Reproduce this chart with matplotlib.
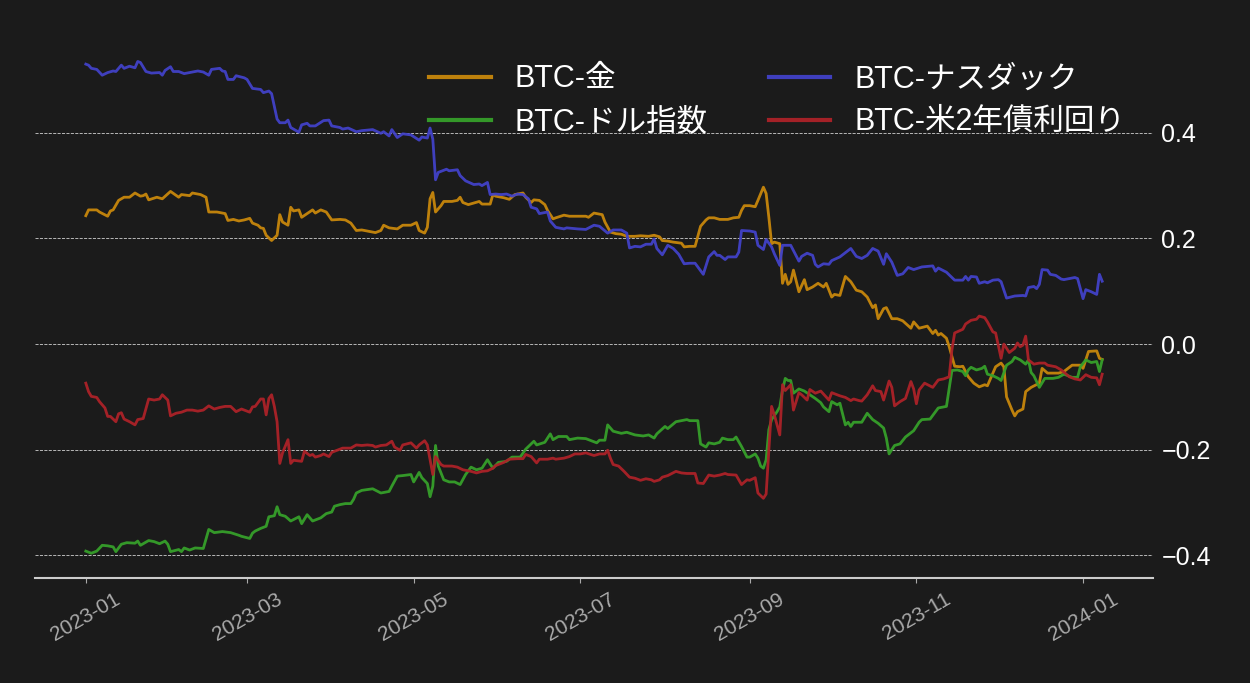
import pandas as pd
import matplotlib
matplotlib.use("Agg")
import matplotlib.pyplot as plt
import matplotlib.dates as mdates

# data: day offsets from 2023-01-01 and correlation values
start = pd.Timestamp("2023-01-01")

gold_days = [0, 1, 4, 5, 8, 9, 10, 12, 14, 16, 18, 20, 21, 22, 23, 26, 28, 31, 34, 35, 38, 39, 42, 44, 45,
             48, 51, 52, 54, 56, 58, 60, 61, 63, 64, 65, 66, 68, 70, 71, 72, 74, 75, 76, 78, 79, 81, 83, 84,
             86, 88, 90, 93, 95, 97, 99, 101, 103, 106, 108, 109, 111, 114, 116, 119, 121, 122, 124, 125,
             126, 127, 128, 130, 131, 134, 136, 137, 138, 140, 142, 144, 145, 148, 149, 150, 153, 155, 157,
             160, 161, 163, 164, 166, 168, 169, 171, 172, 175, 177, 180, 183, 184, 186, 189, 190, 192, 194,
             196, 198, 201, 203, 206, 208, 210, 211, 213, 215, 218, 219, 221, 223, 225, 227, 228, 230, 232,
             235, 237, 239, 240, 241, 243, 245, 246, 248, 249, 250, 251, 252, 254, 255, 256, 257, 258, 259,
             261, 263, 264, 266, 268, 270, 271, 273, 274, 276, 278, 280, 282, 284, 286, 288, 289, 290, 292,
             293, 295, 297, 299, 302, 303, 305, 308, 310, 311, 312, 313, 315, 316, 318, 320, 321, 323, 325,
             327, 329, 330, 332, 333, 335, 336, 337, 339, 340, 341, 343, 344, 346, 349, 350, 352, 356, 358,
             361, 364, 365, 367, 370, 371, 372]
gold = [0.243, 0.254, 0.254, 0.250, 0.242, 0.252, 0.254, 0.272, 0.278, 0.278, 0.286, 0.280, 0.281, 0.284,
        0.273, 0.278, 0.275, 0.289, 0.278, 0.283, 0.281, 0.286, 0.283, 0.278, 0.250, 0.250, 0.247, 0.234,
        0.236, 0.233, 0.235, 0.238, 0.229, 0.225, 0.220, 0.219, 0.206, 0.196, 0.206, 0.245, 0.231, 0.225,
        0.259, 0.252, 0.254, 0.240, 0.247, 0.254, 0.248, 0.254, 0.250, 0.235, 0.236, 0.235, 0.229, 0.215,
        0.216, 0.214, 0.211, 0.215, 0.225, 0.220, 0.218, 0.225, 0.225, 0.230, 0.215, 0.210, 0.221, 0.275,
        0.287, 0.250, 0.262, 0.270, 0.270, 0.272, 0.278, 0.268, 0.264, 0.267, 0.270, 0.265, 0.265, 0.283,
        0.280, 0.277, 0.274, 0.283, 0.286, 0.278, 0.268, 0.273, 0.272, 0.264, 0.253, 0.237, 0.239, 0.244,
        0.242, 0.242, 0.242, 0.240, 0.248, 0.245, 0.231, 0.212, 0.209, 0.208, 0.204, 0.204, 0.205, 0.204,
        0.206, 0.203, 0.196, 0.195, 0.193, 0.191, 0.184, 0.185, 0.185, 0.223, 0.235, 0.239, 0.239, 0.236,
        0.236, 0.239, 0.240, 0.253, 0.262, 0.262, 0.260, 0.272, 0.297, 0.285, 0.240, 0.190, 0.193, 0.190,
        0.115, 0.132, 0.113, 0.118, 0.140, 0.099, 0.122, 0.103, 0.108, 0.115, 0.108, 0.115, 0.089, 0.094,
        0.092, 0.128, 0.118, 0.102, 0.099, 0.089, 0.069, 0.074, 0.048, 0.067, 0.069, 0.048, 0.048, 0.044,
        0.030, 0.042, 0.030, 0.034, 0.020, 0.026, 0.017, 0.020, 0.011, -0.005, -0.042, -0.043, -0.042,
        -0.062, -0.074, -0.081, -0.077, -0.079, -0.055, -0.043, -0.036, -0.043, -0.100, -0.125, -0.136,
        -0.128, -0.123, -0.090, -0.082, -0.074, -0.046, -0.055, -0.055, -0.052, -0.040, -0.040, -0.046,
        -0.014, -0.013, -0.027, -0.029]

nasdaq_days = [0, 1, 2, 4, 6, 8, 10, 11, 13, 14, 16, 18, 19, 20, 22, 24, 27, 28, 29, 31, 32, 34, 36, 38, 41,
               43, 45, 46, 49, 50, 51, 52, 54, 55, 58, 59, 61, 64, 65, 67, 68, 70, 71, 73, 74, 75, 78, 79,
               81, 82, 84, 87, 89, 90, 93, 94, 96, 99, 101, 105, 108, 109, 111, 112, 114, 116, 119, 122,
               123, 125, 126, 127, 128, 129, 130, 132, 133, 136, 137, 139, 142, 144, 145, 147, 148, 150,
               152, 154, 156, 158, 160, 162, 163, 165, 166, 169, 170, 172, 175, 176, 180, 183, 186, 188,
               191, 193, 196, 198, 199, 201, 203, 205, 207, 208, 209, 211, 213, 215, 217, 219, 221, 223,
               226, 228, 230, 231, 232, 234, 235, 238, 239, 240, 243, 245, 246, 248, 249, 251, 252, 254,
               255, 258, 259, 261, 262, 264, 266, 267, 268, 270, 272, 273, 276, 280, 282, 284, 286, 288,
               290, 292, 293, 295, 297, 299, 301, 303, 306, 310, 311, 312, 315, 318, 321, 322, 323, 324,
               326, 327, 329, 330, 332, 334, 335, 337, 340, 343, 344, 345, 347, 348, 349, 350, 352, 353,
               355, 357, 358, 360, 362, 363, 365, 366, 368, 370, 371, 372]
nasdaq = [0.530, 0.528, 0.522, 0.520, 0.509, 0.514, 0.517, 0.516, 0.528, 0.522, 0.526, 0.523, 0.535, 0.533,
          0.516, 0.513, 0.514, 0.509, 0.518, 0.525, 0.516, 0.516, 0.512, 0.514, 0.517, 0.515, 0.509, 0.520,
          0.522, 0.517, 0.516, 0.501, 0.501, 0.508, 0.504, 0.501, 0.484, 0.482, 0.476, 0.479, 0.474, 0.426,
          0.419, 0.419, 0.424, 0.410, 0.401, 0.415, 0.418, 0.413, 0.413, 0.423, 0.424, 0.413, 0.410, 0.407,
          0.409, 0.402, 0.404, 0.406, 0.399, 0.402, 0.394, 0.406, 0.391, 0.398, 0.396, 0.386, 0.392, 0.390,
          0.409, 0.388, 0.311, 0.325, 0.327, 0.331, 0.328, 0.330, 0.319, 0.309, 0.302, 0.303, 0.300, 0.306,
          0.283, 0.284, 0.283, 0.284, 0.280, 0.284, 0.283, 0.275, 0.259, 0.256, 0.247, 0.250, 0.233, 0.221,
          0.218, 0.220, 0.218, 0.217, 0.225, 0.223, 0.210, 0.216, 0.216, 0.210, 0.182, 0.185, 0.184, 0.189,
          0.189, 0.199, 0.181, 0.169, 0.187, 0.181, 0.170, 0.152, 0.153, 0.153, 0.132, 0.165, 0.175, 0.168,
          0.168, 0.160, 0.165, 0.165, 0.174, 0.215, 0.214, 0.212, 0.187, 0.179, 0.198, 0.184, 0.171, 0.149,
          0.187, 0.187, 0.177, 0.157, 0.166, 0.172, 0.168, 0.151, 0.146, 0.152, 0.151, 0.158, 0.165, 0.181,
          0.166, 0.162, 0.168, 0.181, 0.176, 0.151, 0.171, 0.155, 0.130, 0.133, 0.145, 0.141, 0.146, 0.148,
          0.138, 0.144, 0.136, 0.121, 0.121, 0.128, 0.121, 0.128, 0.127, 0.115, 0.118, 0.116, 0.121, 0.122,
          0.118, 0.087, 0.091, 0.092, 0.091, 0.107, 0.109, 0.105, 0.113, 0.141, 0.140, 0.132, 0.130, 0.123,
          0.122, 0.124, 0.126, 0.124, 0.086, 0.103, 0.099, 0.094, 0.132, 0.119]

dollar_days = [0, 2, 4, 6, 8, 10, 11, 13, 15, 18, 19, 20, 23, 25, 27, 29, 30, 31, 34, 35, 36, 38, 40, 43, 45,
               47, 50, 53, 56, 57, 60, 61, 62, 64, 66, 67, 69, 70, 71, 73, 75, 78, 79, 81, 83, 86, 88, 90, 91,
               93, 95, 97, 98, 99, 101, 105, 108, 111, 112, 114, 116, 119, 120, 122, 123, 125, 126, 127, 128,
               129, 131, 133, 135, 137, 139, 141, 143, 145, 147, 149, 151, 154, 156, 159, 161, 164, 165, 168,
               170, 171, 173, 176, 177, 180, 183, 187, 188, 190, 191, 193, 196, 198, 201, 204, 206, 208, 209,
               212, 213, 216, 218, 220, 221, 224, 225, 227, 228, 230, 232, 233, 235, 237, 238, 240, 242, 243,
               245, 246, 247, 248, 249, 250, 251, 253, 254, 255, 256, 257, 258, 259, 261, 263, 265, 267, 269,
               270, 272, 273, 275, 276, 278, 279, 280, 281, 284, 286, 288, 290, 292, 293, 294, 296, 298, 300,
               301, 303, 305, 306, 309, 311, 312, 315, 316, 317, 319, 321, 322, 323, 324, 326, 328, 329, 330,
               332, 334, 335, 337, 339, 340, 342, 344, 345, 346, 347, 349, 351, 354, 356, 358, 361, 363, 364,
               366, 368, 370, 371, 372]
dollar = [-0.392, -0.396, -0.392, -0.381, -0.382, -0.384, -0.393, -0.379, -0.376, -0.377, -0.373, -0.381,
          -0.372, -0.374, -0.378, -0.373, -0.379, -0.393, -0.389, -0.393, -0.386, -0.390, -0.386, -0.387,
          -0.351, -0.357, -0.355, -0.357, -0.362, -0.364, -0.368, -0.358, -0.354, -0.349, -0.345, -0.327,
          -0.325, -0.308, -0.323, -0.326, -0.335, -0.327, -0.340, -0.323, -0.335, -0.329, -0.321, -0.318,
          -0.307, -0.304, -0.302, -0.302, -0.294, -0.282, -0.277, -0.274, -0.282, -0.279, -0.269, -0.250,
          -0.249, -0.247, -0.261, -0.243, -0.253, -0.264, -0.289, -0.269, -0.192, -0.231, -0.257, -0.261,
          -0.261, -0.266, -0.247, -0.233, -0.238, -0.235, -0.219, -0.235, -0.224, -0.222, -0.214, -0.214,
          -0.199, -0.184, -0.191, -0.186, -0.170, -0.181, -0.175, -0.175, -0.181, -0.178, -0.179, -0.187,
          -0.182, -0.182, -0.153, -0.165, -0.169, -0.167, -0.172, -0.174, -0.172, -0.178, -0.170, -0.156,
          -0.160, -0.147, -0.145, -0.143, -0.145, -0.145, -0.189, -0.195, -0.187, -0.189, -0.186, -0.178,
          -0.181, -0.181, -0.176, -0.194, -0.214, -0.214, -0.208, -0.216, -0.231, -0.235, -0.219, -0.162,
          -0.143, -0.128, -0.119, -0.087, -0.065, -0.069, -0.069, -0.093, -0.085, -0.089, -0.096, -0.103,
          -0.111, -0.119, -0.128, -0.109, -0.115, -0.112, -0.153, -0.148, -0.156, -0.148, -0.148, -0.131,
          -0.143, -0.150, -0.159, -0.178, -0.208, -0.192, -0.189, -0.176, -0.172, -0.164, -0.148, -0.143,
          -0.142, -0.128, -0.121, -0.118, -0.084, -0.050, -0.049, -0.052, -0.060, -0.049, -0.044, -0.049,
          -0.046, -0.042, -0.057, -0.060, -0.065, -0.069, -0.040, -0.033, -0.025, -0.030, -0.038, -0.030,
          -0.054, -0.060, -0.082, -0.065, -0.065, -0.063, -0.057, -0.063, -0.063, -0.043, -0.030, -0.035,
          -0.033, -0.052, -0.030]

yield_days = [0, 1, 2, 4, 5, 7, 8, 9, 11, 12, 13, 14, 16, 18, 19, 21, 23, 25, 27, 28, 30, 31, 33, 35, 37, 39,
              41, 43, 45, 47, 49, 51, 53, 55, 57, 58, 60, 61, 62, 64, 65, 66, 67, 68, 69, 70, 71, 72, 74, 75,
              76, 79, 80, 82, 83, 84, 86, 87, 89, 90, 93, 94, 97, 99, 101, 103, 105, 106, 108, 110, 112, 113,
              115, 116, 119, 121, 122, 124, 125, 126, 127, 128, 130, 131, 134, 136, 138, 141, 143, 145, 147,
              149, 150, 153, 155, 158, 160, 161, 163, 165, 166, 169, 171, 172, 175, 177, 179, 181, 183, 186,
              188, 190, 191, 192, 193, 195, 197, 199, 201, 203, 205, 207, 208, 210, 211, 213, 216, 218, 220,
              223, 224, 226, 228, 230, 232, 234, 235, 238, 239, 240, 242, 243, 245, 246, 248, 249, 250, 251,
              252, 253, 254, 255, 256, 258, 259, 261, 262, 264, 265, 267, 269, 272, 273, 275, 276, 278, 280,
              281, 283, 284, 286, 288, 289, 291, 292, 294, 295, 296, 298, 300, 302, 303, 304, 305, 307, 310,
              312, 314, 316, 317, 318, 321, 322, 324, 326, 327, 329, 330, 332, 333, 335, 336, 338, 340, 341,
              342, 343, 344, 345, 347, 349, 351, 352, 355, 357, 360, 362, 364, 366, 368, 370, 371, 372]
yield2y = [-0.074, -0.090, -0.099, -0.101, -0.109, -0.121, -0.137, -0.137, -0.147, -0.132, -0.130, -0.142,
           -0.147, -0.153, -0.143, -0.141, -0.104, -0.106, -0.104, -0.096, -0.106, -0.136, -0.131, -0.129,
           -0.125, -0.125, -0.127, -0.125, -0.117, -0.123, -0.120, -0.118, -0.118, -0.128, -0.123, -0.125,
           -0.129, -0.119, -0.118, -0.104, -0.104, -0.134, -0.103, -0.096, -0.118, -0.147, -0.226, -0.206,
           -0.181, -0.226, -0.220, -0.222, -0.203, -0.211, -0.209, -0.214, -0.211, -0.208, -0.213, -0.205,
           -0.199, -0.197, -0.197, -0.191, -0.192, -0.191, -0.192, -0.195, -0.192, -0.191, -0.184, -0.195,
           -0.201, -0.191, -0.187, -0.197, -0.191, -0.183, -0.191, -0.219, -0.247, -0.213, -0.228, -0.231,
           -0.231, -0.233, -0.238, -0.241, -0.244, -0.241, -0.240, -0.235, -0.230, -0.224, -0.218, -0.217,
           -0.217, -0.209, -0.213, -0.225, -0.218, -0.218, -0.216, -0.218, -0.216, -0.213, -0.208, -0.208,
           -0.206, -0.211, -0.208, -0.208, -0.201, -0.216, -0.228, -0.231, -0.241, -0.252, -0.254, -0.258,
           -0.255, -0.257, -0.260, -0.257, -0.252, -0.249, -0.241, -0.244, -0.245, -0.245, -0.263, -0.264,
           -0.248, -0.250, -0.248, -0.245, -0.247, -0.248, -0.257, -0.266, -0.257, -0.258, -0.253, -0.282,
           -0.292, -0.284, -0.200, -0.118, -0.134, -0.153, -0.172, -0.077, -0.088, -0.077, -0.125, -0.092,
           -0.096, -0.106, -0.086, -0.093, -0.089, -0.106, -0.092, -0.096, -0.098, -0.101, -0.107, -0.104,
           -0.107, -0.108, -0.096, -0.079, -0.088, -0.090, -0.106, -0.070, -0.082, -0.117, -0.109, -0.103,
           -0.071, -0.085, -0.113, -0.087, -0.074, -0.082, -0.068, -0.066, -0.062, -0.011, 0.021, 0.028,
           0.038, 0.045, 0.047, 0.053, 0.050, 0.042, 0.023, 0.021, -0.027, 0.000, -0.016, -0.008, 0.002,
           -0.005, -0.002, 0.015, -0.030, -0.038, -0.036, -0.036, -0.040, -0.043, -0.049, -0.062, -0.066,
           -0.068, -0.058, -0.063, -0.064, -0.077, -0.057]

labels = ["BTC-金", "BTC-ナスダック", "BTC-ドル指数", "BTC-米2年債利回り"]
colors = ["#c8870c", "#4242c8", "#36a02a", "#ac2228"]

bg = "#1b1b1b"
plt.rcParams["font.family"] = ["Liberation Sans", "Noto Sans CJK JP", "DejaVu Sans"]

fig = plt.figure(figsize=(12.5, 6.83), dpi=100, facecolor=bg)
ax = fig.add_axes([0.028, 0.154, 0.8944, 0.792])
ax.set_facecolor(bg)


def to_dates(days):
    return start + pd.to_timedelta(days, unit="D")


series = [(gold_days, gold), (nasdaq_days, nasdaq), (dollar_days, dollar), (yield_days, yield2y)]
# ncol=2 fills the legend column by column, so plot gold, dollar, nasdaq, yield
order = [0, 2, 1, 3]
lines = {}
for i in order:
    d, v = series[i]
    ln, = ax.plot(to_dates(d), v, color=colors[i], lw=2, alpha=0.95, label=labels[i])
    lines[i] = ln

ax.set_yticks([-0.4, -0.2, 0.0, 0.2, 0.4])
ax.yaxis.tick_right()
ax.tick_params(axis="y", length=0, pad=6, labelsize=18, labelcolor="white")
ax.grid(axis="y", color="#d0d0d0", ls="--", lw=0.6)
ax.grid(axis="x", visible=False)

ax.xaxis.set_major_locator(mdates.MonthLocator(bymonth=[1, 3, 5, 7, 9, 11]))
ax.xaxis.set_major_formatter(mdates.DateFormatter("%Y-%m"))
ax.tick_params(axis="x", colors="#aaaaaa", labelsize=15, length=3.5, pad=5)
plt.setp(ax.get_xticklabels(), rotation=30, ha="center")

for s in ["top", "left", "right"]:
    ax.spines[s].set_visible(False)
ax.spines["bottom"].set_color("#cccccc")
ax.spines["bottom"].set_linewidth(1.5)

leg = ax.legend(handles=[lines[i] for i in order], ncol=2, loc="upper right", frameon=False,
                fontsize=22, labelcolor="white", labelspacing=0.42)
for h in leg.get_lines():
    h.set_linewidth(3)

fig.savefig("out.png", dpi=100, facecolor=bg)
